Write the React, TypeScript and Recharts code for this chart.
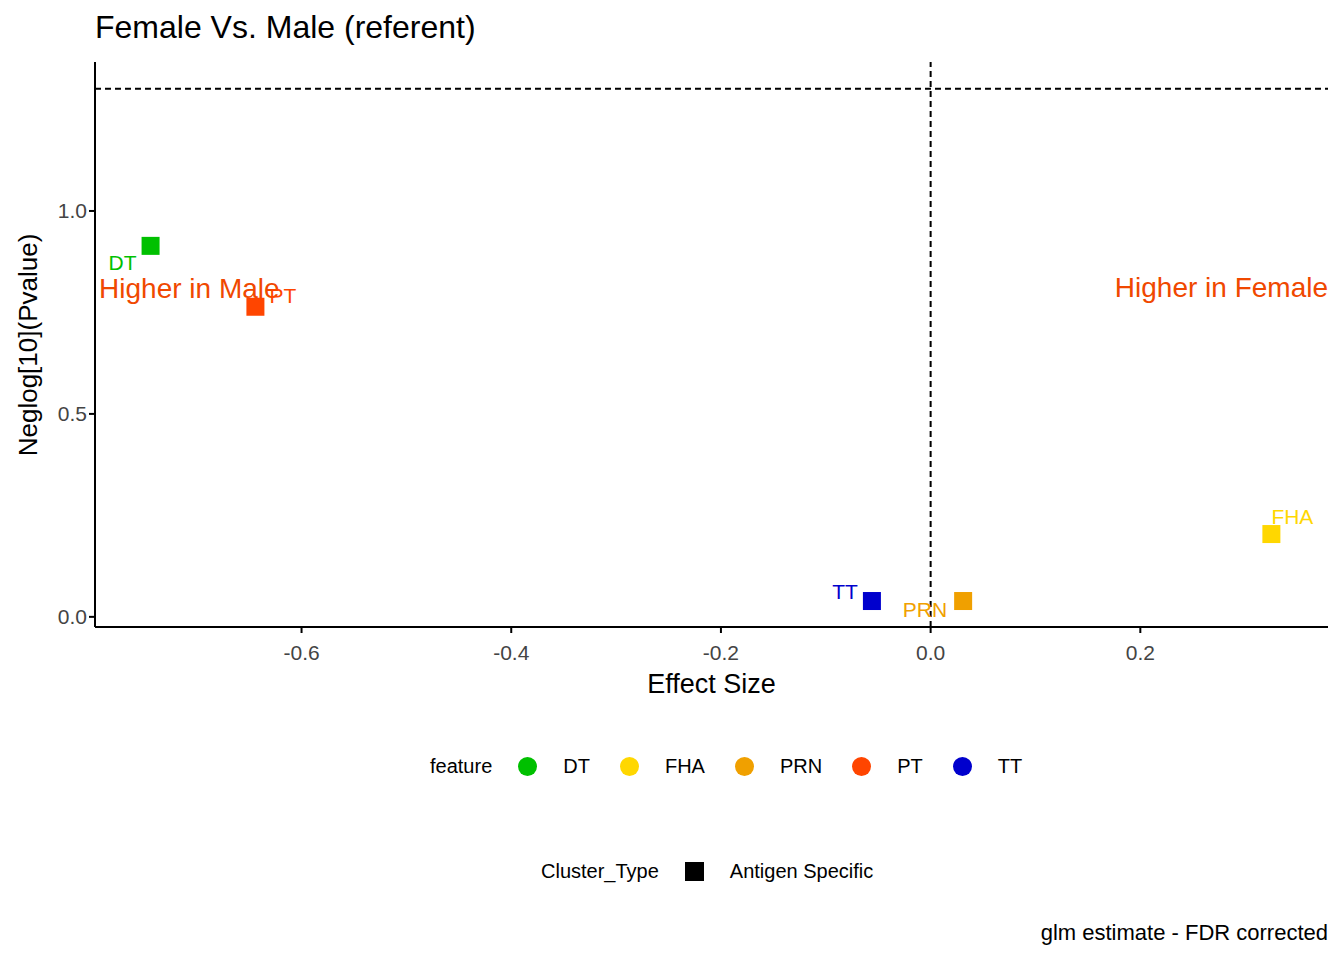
import { ScatterChart, Scatter, XAxis, YAxis, ReferenceLine, ReferenceDot, LabelList } from 'recharts';

const features = ['DT', 'FHA', 'PRN', 'PT', 'TT'];
const effect = [-0.744, 0.325, 0.031, -0.644, -0.056];
const neglogp = [0.914, 0.204, 0.039, 0.764, 0.039];
const colors = ['#00C000', '#FFD700', '#F0A000', '#FF4500', '#0000CD'];
const xTicks = [-0.6, -0.4, -0.2, 0.0, 0.2];
const yTicks = [0.0, 0.5, 1.0];

const labelOffset: Record<string, [number, number, string]> = {
  DT: [-14, 24, 'end'],
  FHA: [0, -10, 'start'],
  PRN: [-16, 16, 'end'],
  PT: [14, -4, 'start'],
  TT: [-14, -2, 'end'],
};

const data = features.map((f, i) => ({ feature: f, x: effect[i], y: neglogp[i], color: colors[i] }));
const font = 'Liberation Sans, Arial, sans-serif';

const Square = (p: any) => (
  <rect x={p.cx - 9} y={p.cy - 9} width={18} height={18} fill={p.payload.color} />
);

const PointLabel = (p: any) => {
  const d = data[p.index];
  const [dx, dy, anchor] = labelOffset[d.feature];
  return (
    <text x={p.x + p.width / 2 + dx} y={p.y + p.height / 2 + dy} textAnchor={anchor as any}
      fill={d.color} fontSize={21} fontFamily={font}>{d.feature}</text>
  );
};

export default function App() {
  return (
    <div style={{ margin: -8, position: 'relative', width: 1344, height: 960, fontFamily: font, background: '#fff' }}>
      <div style={{ position: 'absolute', left: 95, top: 9, fontSize: 32 }}>Female Vs. Male (referent)</div>
      <div style={{ position: 'absolute', left: 28, top: 345, fontSize: 26, transform: 'translate(-50%, -50%) rotate(-90deg)', whiteSpace: 'nowrap' }}>
        Neglog[10](Pvalue)
      </div>
      <ScatterChart width={1344} height={960} margin={{ top: 62, right: 16, left: 50, bottom: 283 }}>
        <XAxis type="number" dataKey="x" domain={[-0.797, 0.379]} ticks={xTicks} allowDataOverflow
          tickFormatter={(v: number) => v.toFixed(1)} height={50} stroke="#000" strokeWidth={2}
          tick={{ fill: '#444', fontSize: 21, fontFamily: font, dy: 10 }} tickSize={6}
          label={{ value: 'Effect Size', position: 'insideBottom', offset: -16, fontSize: 27, fill: '#000', fontFamily: font }} />
        <YAxis type="number" dataKey="y" domain={[-0.025, 1.367]} ticks={yTicks} allowDataOverflow
          tickFormatter={(v: number) => v.toFixed(1)} width={45} stroke="#000" strokeWidth={2}
          tick={{ fill: '#444', fontSize: 21, fontFamily: font }} tickSize={6} />
        <ReferenceLine y={1.301} stroke="#000" strokeDasharray="6 4" strokeWidth={2} />
        <ReferenceLine x={0} stroke="#000" strokeDasharray="6 4" strokeWidth={2} />
        <ReferenceDot x={-0.707} y={0.81} r={0} stroke="none"
          label={{ value: 'Higher in Male', fill: '#F04800', fontSize: 28, fontFamily: font }} />
        <ReferenceDot x={0.379} y={0.81} r={0} stroke="none"
          label={(p: any) => (
            <text x={p.viewBox.x} y={p.viewBox.y + 9} textAnchor="end" fill="#F04800" fontSize={28} fontFamily={font}>Higher in Female</text>
          )} />
        <Scatter data={data} shape={Square} isAnimationActive={false}>
          <LabelList dataKey="feature" content={PointLabel} />
        </Scatter>
      </ScatterChart>
      <div style={{ position: 'absolute', top: 755, left: 430, fontSize: 20, display: 'flex', alignItems: 'center' }}>
        <span style={{ marginRight: 26 }}>feature</span>
        {features.map((f, i) => (
          <span key={f} style={{ display: 'flex', alignItems: 'center', marginRight: 30 }}>
            <span style={{ width: 19, height: 19, borderRadius: 10, background: colors[i], marginRight: 26 }} />
            {f}
          </span>
        ))}
      </div>
      <div style={{ position: 'absolute', top: 860, left: 541, fontSize: 20, display: 'flex', alignItems: 'center' }}>
        <span style={{ marginRight: 26 }}>Cluster_Type</span>
        <span style={{ width: 19, height: 19, background: '#000', marginRight: 26 }} />
        Antigen Specific
      </div>
      <div style={{ position: 'absolute', top: 920, right: 16, fontSize: 22 }}>glm estimate - FDR corrected</div>
    </div>
  );
}
